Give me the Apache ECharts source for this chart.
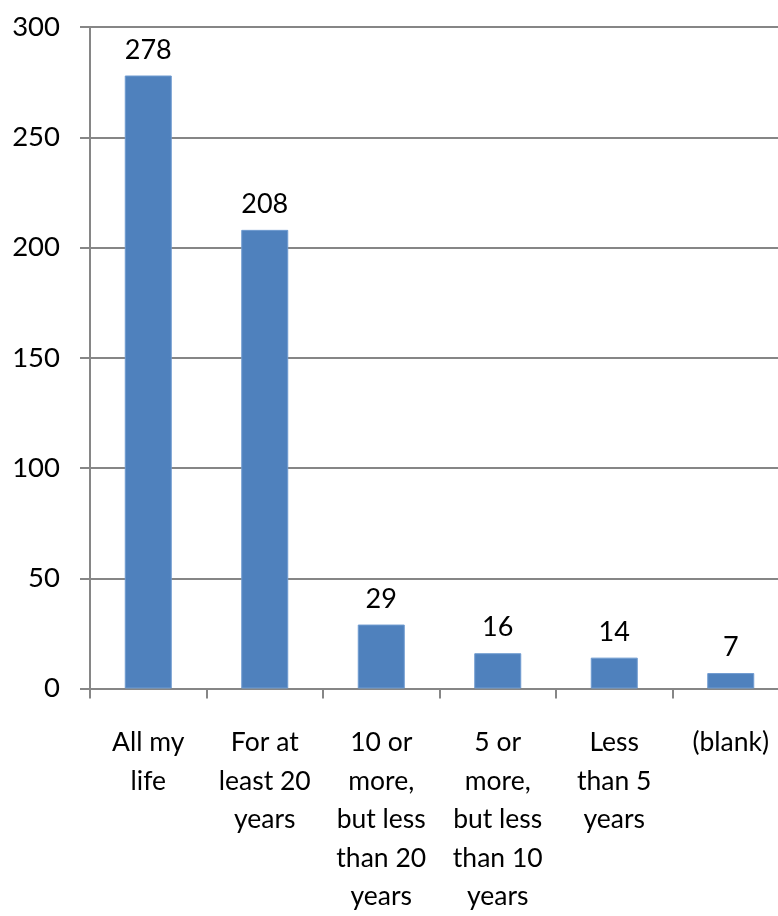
<!DOCTYPE html>
<html>
<head>
<meta charset="utf-8">
<script src="https://cdn.jsdelivr.net/npm/echarts@6/dist/echarts.min.js"></script>
<style>
  html, body { margin: 0; padding: 0; background: #ffffff; overflow: hidden; }
  /* the plot runs a little past the right edge of the window */
  #chart { width: 800px; height: 916px; }
</style>
</head>
<body>
<div id="chart"></div>
<script>
// How long respondents have lived here
const categories = [
  'All my\nlife',
  'For at\nleast 20\nyears',
  '10 or\nmore,\nbut less\nthan 20\nyears',
  '5 or\nmore,\nbut less\nthan 10\nyears',
  'Less\nthan 5\nyears',
  '(blank)'
];
const counts = [278, 208, 29, 16, 14, 7];
const yTicks = { min: 0, max: 300, interval: 50 };

const fontFamily = 'Lato, "Open Sans", "Noto Sans", sans-serif';
const chart = echarts.init(document.getElementById('chart'), null, { renderer: 'canvas' });

chart.setOption({
  animation: false,
  backgroundColor: '#ffffff',
  grid: { left: 90, top: 27, width: 699, bottom: 223, containLabel: false },
  xAxis: {
    type: 'category',
    data: categories,
    axisLine: { lineStyle: { color: '#868686', width: 2 } },
    axisTick: { show: true, length: 10, alignWithLabel: false, lineStyle: { color: '#868686', width: 2 } },
    axisLabel: {
      interval: 0,
      margin: 35,
      color: '#000000',
      fontSize: 26.5,
      lineHeight: 38.5,
      fontFamily: fontFamily
    }
  },
  yAxis: {
    type: 'value',
    min: yTicks.min,
    max: yTicks.max,
    interval: yTicks.interval,
    axisLine: { show: true, lineStyle: { color: '#868686', width: 2 } },
    axisTick: { show: true, length: 10, lineStyle: { color: '#868686', width: 2 } },
    splitLine: { show: true, lineStyle: { color: '#868686', width: 2 } },
    axisLabel: {
      margin: 30,
      color: '#000000',
      fontSize: 27.5,
      fontFamily: fontFamily
    }
  },
  series: [{
    type: 'bar',
    data: counts,
    barWidth: 47,
    itemStyle: { color: '#4F81BD', borderColor: '#6f9bd0', borderWidth: 1 },
    label: {
      show: true,
      position: 'top',
      distance: 12,
      color: '#000000',
      fontSize: 27,
      fontFamily: fontFamily
    }
  }]
});
</script>
</body>
</html>
